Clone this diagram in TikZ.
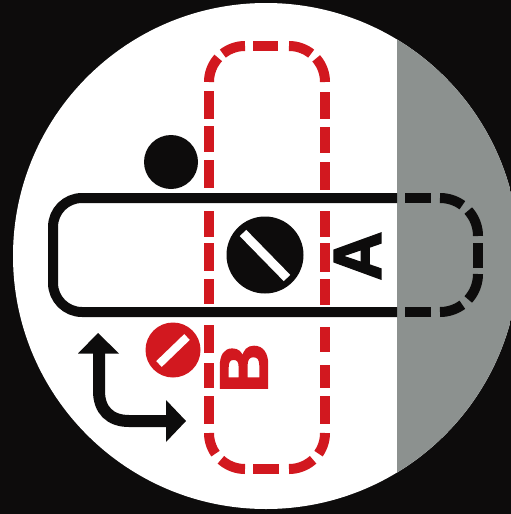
\documentclass[tikz,border=0pt]{standalone}
\usepackage{fontspec}
\setmainfont[BoldFont={Liberation Sans Bold},BoldFeatures={FakeBold=2.5}]{Liberation Sans}
\definecolor{ink}{HTML}{0D0C0C}
\definecolor{redink}{HTML}{D2181F}
\definecolor{greyink}{HTML}{8C918F}
\tikzset{
  redline/.style={draw=redink,line width=10pt,line cap=butt},
  blackline/.style={draw=ink,line width=10pt,line cap=butt},
  slot/.style={draw=white,line cap=butt},
  letter/.style={inner sep=0pt,outer sep=0pt,rotate=90,font=\fontsize{68}{68}\selectfont\bfseries}
}
\newcommand{\rarc}[3]{\draw[redline] plot[domain=#2:#3,samples=16] ({\rcx+36*cos(\x)},{\rcy+36*sin(\x)});}
\newcommand{\barc}[3]{\draw[blackline] plot[domain=#2:#3,samples=16] ({\rcx+38*cos(\x)},{\rcy+38*sin(\x)});}
\begin{document}
\begin{tikzpicture}[x=1pt,y=-1pt]
\useasboundingbox (0,0) rectangle (511,514);
\fill[ink] (0,0) rectangle (511,514);
\begin{scope}
  \clip (266,256) circle[radius=253pt];
  \fill[white] (0,0) rectangle (511,514);
  \fill[greyink] (397,0) rectangle (511,514);
\end{scope}
% red dashed outline
\foreach \ya/\yb in {91/119,126/152,160/188,211/237,243/271,279/304,325/353,363/388,396/424}
  \draw[redline] (209,\ya) -- (209,\yb);
\foreach \ya/\yb in {92/119,127/153,162/190,211/237,243/272,279/305,327/352,365/388,396/424}
  \draw[redline] (325,\ya) -- (325,\yb);
\draw[redline] (253,46) -- (278,46);
\draw[redline] (253,469) -- (279,469);
\def\rcx{245}\def\rcy{82}
\rarc{}{180}{222}\rarc{}{232}{270}
\def\rcx{289}\def\rcy{82}
\rarc{}{270}{308}\rarc{}{319}{360}
\def\rcx{245}\def\rcy{433}
\rarc{}{180}{145}\rarc{}{132}{90}
\def\rcx{289}\def\rcy{433}
\rarc{}{90}{48}\rarc{}{35}{0}
% black outline
\draw[blackline,rounded corners=29pt] (397,198) -- (53,198) -- (53,312) -- (397,312);
\draw[blackline] (405,198) -- (431,198);
\draw[blackline] (405,312) -- (431,312);
\draw[blackline] (478,243) -- (478,268);
\def\rcx{440}\def\rcy{236}
\barc{}{270}{306}\barc{}{318}{360}
\def\rcx{440}\def\rcy{274}
\barc{}{0}{42}\barc{}{54}{90}
% screws
\fill[ink] (265,255) circle[radius=38.5pt];
\draw[slot,line width=9pt] (243,233) -- (287,278);
\fill[ink] (171,162) circle[radius=27pt];
\fill[redink] (173,350) circle[radius=27.5pt];
\draw[slot,line width=8pt] (159,364) -- (187,337);
% double arrow
\draw[ink,line width=12pt,line cap=butt] (99,352) -- (99,391) .. controls (99,410) and (110,421) .. (129,421) -- (167,421);
\fill[ink] (98,333) -- (119,353.5) -- (78,353.5) -- cycle;
\fill[ink] (186,421) -- (166,442) -- (166,400) -- cycle;
% letters
\node[letter,text=ink] (labelA) at (357.5,256) {A};
\node[letter,text=redink] (labelB) at (244,368) {B};
\end{tikzpicture}
\end{document}
